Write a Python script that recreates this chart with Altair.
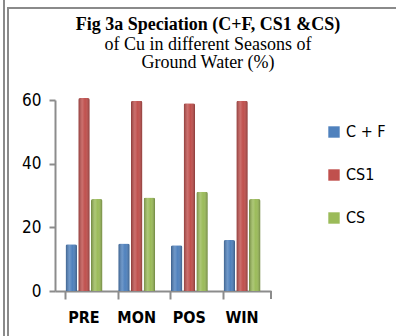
import altair as alt
import pandas as pd

seasons = ["PRE", "MON", "POS", "WIN"]
series = ["C + F", "CS1", "CS"]
cf = [14.7, 14.9, 14.4, 16.0]
cs1 = [60.6, 59.8, 59.0, 59.8]
cs = [28.9, 29.4, 31.2, 28.9]
colors = ["#4F81BD", "#C0504D", "#9BBB59"]
y_ticks = [0, 20, 40, 60]

rows = []
for i, s in enumerate(seasons):
    for name, vals in zip(series, [cf, cs1, cs]):
        rows.append({"season": s, "series": name, "value": vals[i]})
df = pd.DataFrame(rows)

SANS = "DejaVu Sans Condensed, DejaVu Sans"
SERIF = "Liberation Serif, Times New Roman, serif"

x_enc = alt.X("season:N", sort=seasons, title=None,
              scale=alt.Scale(paddingInner=0.3),
              axis=alt.Axis(labelAngle=0, bandPosition=0, domainColor="#8c8c8c",
                            domainWidth=2, tickColor="#8c8c8c", tickWidth=2,
                            tickSize=8, labelPadding=10, labelFont=SANS,
                            labelFontSize=16, labelFontWeight="bold",
                            labelColor="black"))
xo_enc = alt.XOffset("series:N", sort=series, scale=alt.Scale(paddingInner=0.1))
y_enc = alt.Y("value:Q", title=None,
              scale=alt.Scale(domain=[0, 60], nice=False),
              axis=alt.Axis(values=y_ticks, grid=False, domainColor="#8c8c8c",
                            domainWidth=2, tickColor="#8c8c8c", tickWidth=2,
                            tickSize=6, labelPadding=8, labelFont=SANS,
                            labelFontSize=17, labelColor="black"))

bars = alt.Chart(df).mark_bar(xOffset=6, cornerRadiusTopLeft=2, cornerRadiusTopRight=2).encode(
    x=x_enc, xOffset=xo_enc, y=y_enc,
    color=alt.Color("series:N", sort=series,
                    scale=alt.Scale(domain=series, range=colors),
                    legend=alt.Legend(title=None, orient="none", legendX=271, legendY=24,
                                      symbolType="square", symbolSize=130,
                                      symbolStrokeWidth=0, rowPadding=27,
                                      labelFont=SANS, labelFontSize=16,
                                      labelColor="black", labelOffset=4)),
)

shade = alt.Chart(df).mark_bar(
    xOffset=6, cornerRadiusTopLeft=2, cornerRadiusTopRight=2,
    color=alt.Gradient(gradient="linear", x1=0, x2=1, y1=0, y2=0, stops=[
        alt.GradientStop(color="rgba(0,0,0,0.28)", offset=0),
        alt.GradientStop(color="rgba(255,255,255,0.18)", offset=0.35),
        alt.GradientStop(color="rgba(255,255,255,0.0)", offset=0.6),
        alt.GradientStop(color="rgba(0,0,0,0.3)", offset=1),
    ])).encode(x=alt.X("season:N", sort=seasons), xOffset=xo_enc, y=alt.Y("value:Q"))

end_tick = alt.Chart(df).mark_rule(color="#8c8c8c", strokeWidth=2).encode(
    x=alt.value(216), y=alt.value(191), y2=alt.value(199))
frame1 = alt.Chart(df).mark_rule(color="#8a8a8a", strokeWidth=2).encode(
    x=alt.value(-51), y=alt.value(-100), y2=alt.value(236))
frame2 = alt.Chart(df).mark_rule(color="#8a8a8a", strokeWidth=2).encode(
    x=alt.value(-47), y=alt.value(-92), y2=alt.value(236))
frame3 = alt.Chart(df).mark_rule(color="#8a8a8a", strokeWidth=2).encode(
    x=alt.value(-48), x2=alt.value(341), y=alt.value(-92))

chart = alt.layer(bars, shade, end_tick, frame1, frame2, frame3).properties(
    width=216, height=191,
    autosize=alt.AutoSizeParams(type="none"),
    padding={"left": 55, "top": 100, "right": 125, "bottom": 45},
    background="white",
    title=alt.TitleParams(
        text="Fig 3a Speciation (C+F,  CS1 &CS)",
        subtitle=["of Cu in different Seasons of", "Ground Water (%)"],
        anchor="middle", dx=45, font=SERIF, fontSize=18, fontWeight="bold",
        color="black", subtitleFont=SERIF, subtitleFontSize=18,
        subtitleColor="black", subtitleLineHeight=18.5, subtitlePadding=2,
        offset=-73),
).configure_view(stroke=None)

chart.save("out.html", embed_options={"renderer": "svg", "actions": False})
